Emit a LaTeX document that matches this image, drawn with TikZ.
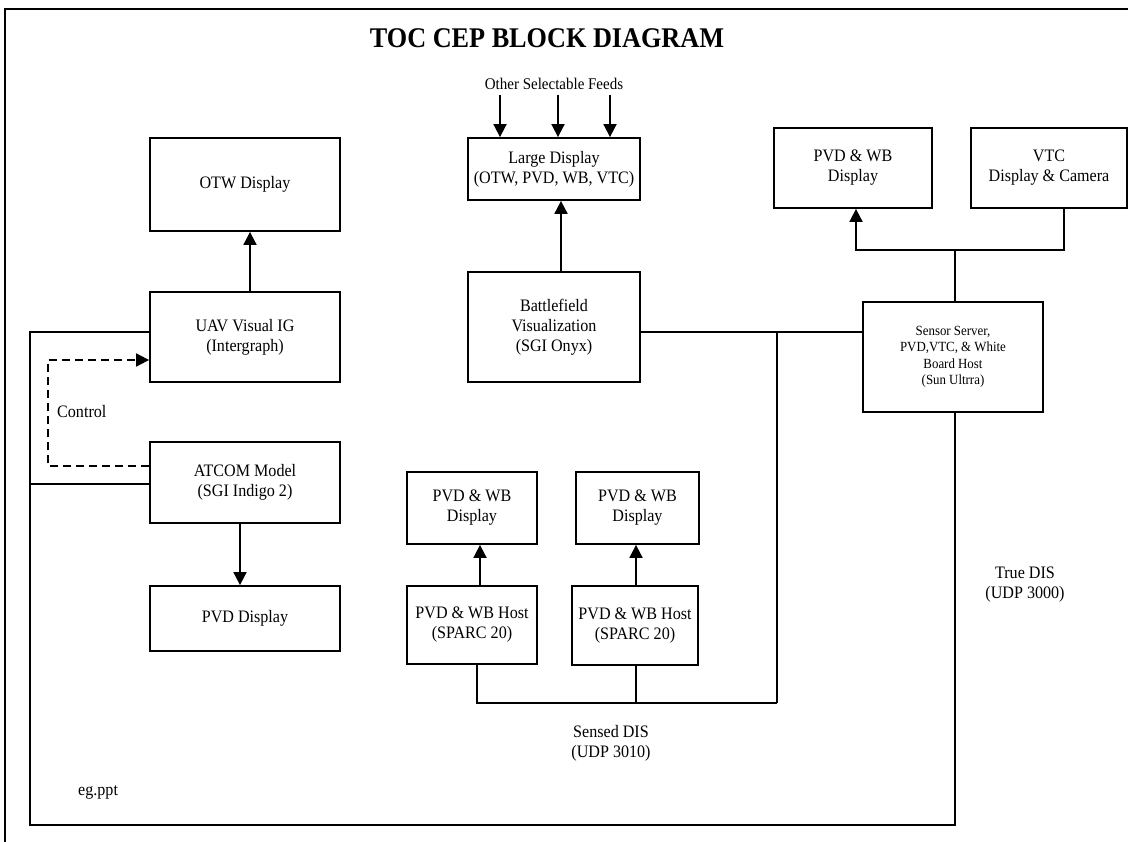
\documentclass[tikz,border=0pt]{standalone}
\usepackage{fontspec}
\setmainfont{Liberation Serif}[FakeStretch=0.92]
\usetikzlibrary{arrows.meta}
\begin{document}
\begin{tikzpicture}[x=1pt,y=-1pt,
  box/.style={draw, line width=1.8pt, inner sep=2pt, align=center, font=\fontsize{17.5}{20}\selectfont},
  sbox/.style={box, font=\fontsize{14}{16.3}\selectfont},
  conn/.style={line width=1.8pt},
  arr/.style={conn, -{Triangle[length=13pt,width=13pt]}},
  dashconn/.style={conn, dash pattern=on 8pt off 5pt, -{Triangle[length=13pt,width=13pt]}},
  lbl/.style={inner sep=0pt, align=center, font=\fontsize{17.5}{20}\selectfont},
]
\useasboundingbox (0,0) rectangle (1128,842);
\fill[white] (0,0) rectangle (1128,842);
% frame
\draw[line width=2pt] (5,842) -- (5,9) -- (1128,9);

% title
\node[inner sep=0pt, anchor=base, font=\fontsize{28.5}{30}\selectfont\bfseries] (title) at (547,48) {TOC CEP BLOCK DIAGRAM};

% boxes
\node[box, minimum width=190pt, minimum height=93pt] (otw) at (245,184.5) {OTW Display};
\node[box, minimum width=190pt, minimum height=90pt] (uav) at (245,337) {UAV Visual IG\\(Intergraph)};
\node[box, minimum width=190pt, minimum height=81pt] (atcom) at (245,482.5) {ATCOM Model\\(SGI Indigo 2)};
\node[box, minimum width=190pt, minimum height=65pt] (pvd) at (245,618.5) {PVD Display};
\node[box, minimum width=172pt, minimum height=62pt] (large) at (554,169) {Large Display\\(OTW, PVD, WB, VTC)};
\node[box, minimum width=172pt, minimum height=110pt] (bf) at (554,327) {Battlefield\\Visualization\\(SGI Onyx)};
\node[box, minimum width=130pt, minimum height=72pt] (d1) at (472,508) {PVD \& WB\\Display};
\node[box, minimum width=123pt, minimum height=72pt] (d2) at (637.5,508) {PVD \& WB\\Display};
\node[box, minimum width=130pt, minimum height=78pt] (h1) at (472,625) {PVD \& WB Host\\(SPARC 20)};
\node[box, minimum width=126pt, minimum height=79pt] (h2) at (635,625.5) {PVD \& WB Host\\(SPARC 20)};
\node[box, minimum width=158pt, minimum height=80pt] (pwd) at (853,168) {PVD \& WB\\Display};
\node[box, minimum width=156pt, minimum height=80pt] (vtc) at (1049,168) {VTC\\Display \& Camera};
\node[sbox, minimum width=180pt, minimum height=110pt] (sensor) at (953,357) {Sensor Server,\\PVD,VTC, \& White\\Board Host\\(Sun Ultrra)};

% labels
\node[lbl, font=\fontsize{16.3}{19}\selectfont] (feeds) at (554,84) {Other Selectable Feeds};
\node[lbl, anchor=west] (control) at (57,412) {Control};
\node[lbl, anchor=west] (eg) at (78,792) {eg.ppt};
\node[lbl] (sensed) at (611,743) {Sensed DIS\\(UDP 3010)};
\node[lbl] (truedis) at (1025,585) {True DIS\\(UDP 3000)};

% coordinates
\coordinate (f1) at (500,95);
\coordinate (f2) at (558,95);
\coordinate (f3) at (610,95);
\coordinate (a1) at (480,0);
\coordinate (a2) at (636,0);
\coordinate (j1) at (777,332);
\coordinate (j2) at (777,703);
\coordinate (j3) at (955,250);
\coordinate (lt) at (30,332);
\coordinate (la) at (30,484);
\coordinate (lb) at (30,825);
\coordinate (c1) at (48,466);
\coordinate (c2) at (48,360);

% feeds into large display
\draw[arr] (f1) -- (f1 |- large.north);
\draw[arr] (f2) -- (f2 |- large.north);
\draw[arr] (f3) -- (f3 |- large.north);

% vertical arrows
\draw[arr] ([xshift=5pt]uav.north) -- ([xshift=5pt]otw.south);
\draw[arr] ([xshift=7pt]bf.north) -- ([xshift=7pt]large.south);
\draw[arr] ([xshift=-5pt]atcom.south) -- ([xshift=-5pt]pvd.north);
\draw[arr] (a1 |- h1.north) -- (a1 |- d1.south);
\draw[arr] (a2 |- h2.north) -- (a2 |- d2.south);

% sensed DIS bus
\draw[conn] (bf.east |- j1) -- (sensor.west |- j1);
\draw[conn] (j1) -- (j2);
\draw[conn] ([xshift=5pt]h1.south) |- (j2);
\draw[conn] (a2 |- h2.south) -- (a2 |- j2);

% sensor to top displays
\draw[conn] (sensor.north -| j3) -- (j3);
\draw[arr] (j3) -| ([xshift=3pt]pwd.south);
\draw[conn] (j3) -| ([xshift=15pt]vtc.south);

% true DIS bus
\draw[conn] (sensor.south -| j3) |- (lb) -- (lt) -- (lt -| uav.west);
\draw[conn] (la) -- (la -| atcom.west);

% control (dashed)
\draw[dashconn] (atcom.west |- c1) -- (c1) -- (c2) -- (c2 -| uav.west);
\end{tikzpicture}
\end{document}
